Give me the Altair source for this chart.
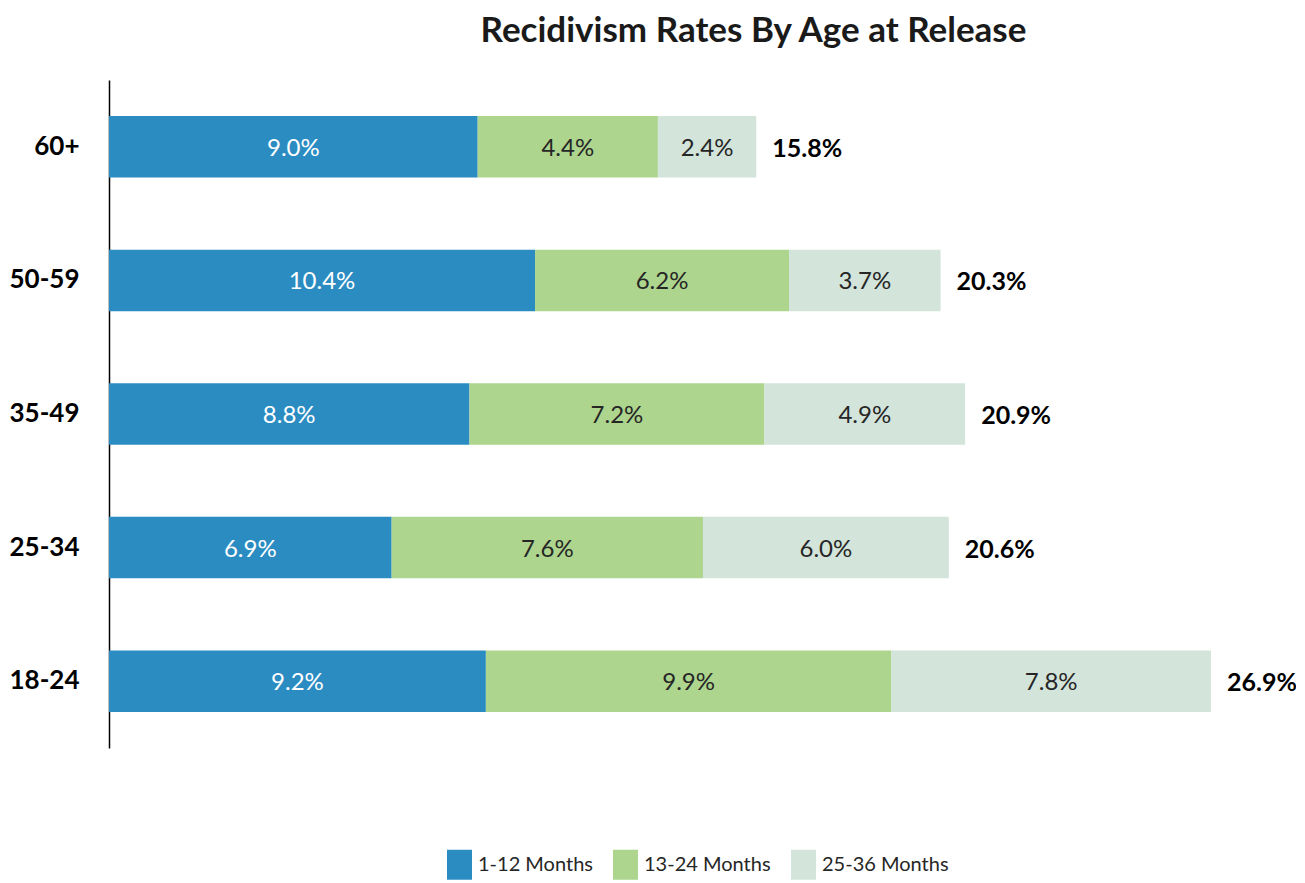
import altair as alt
import pandas as pd

ages = ["60+", "50-59", "35-49", "25-34", "18-24"]
series = ["1-12 Months", "13-24 Months", "25-36 Months"]
m1 = [9.0, 10.4, 8.8, 6.9, 9.2]
m2 = [4.4, 6.2, 7.2, 7.6, 9.9]
m3 = [2.4, 3.7, 4.9, 6.0, 7.8]
totals = [15.8, 20.3, 20.9, 20.6, 26.9]
colors = ["#2B8CC2", "#ADD58E", "#D3E4DA"]

rows = []
for i, a in enumerate(ages):
    for k, vals in enumerate([m1, m2, m3]):
        rows.append({"age": a, "series": series[k], "order": k, "value": vals[i],
                     "label": f"{vals[i]:.1f}%"})
df = pd.DataFrame(rows)
tot = pd.DataFrame({"age": ages, "total": totals,
                    "label": [f"{t:.1f}%" for t in totals],
                    "end": [m1[i] + m2[i] + m3[i] for i in range(len(ages))]})

FONT = "Lato"
xscale = alt.Scale(domain=[0, 28], nice=False, zero=True)
yscale = alt.Scale(domain=ages, paddingInner=0.54, paddingOuter=0.27)

y_enc = alt.Y("age:N", scale=yscale, sort=ages,
              axis=alt.Axis(title=None, ticks=False, labelFontSize=26, labelFont=FONT,
                            labelFontWeight="bold", labelColor="#000000", labelPadding=30,
                            domainColor="#000000", domainWidth=1.5, grid=False))

bars = alt.Chart(df).mark_bar().encode(
    x=alt.X("value:Q", stack="zero", scale=xscale, axis=None),
    y=y_enc,
    color=alt.Color("series:N", scale=alt.Scale(domain=series, range=colors),
                    legend=alt.Legend(title=None, orient="none", legendX=338, legendY=772,
                                      direction="horizontal", columns=3,
                                      symbolType="M-1,-1.2H1V1.2H-1Z", symbolSize=625,
                                      symbolStrokeWidth=0, symbolOpacity=1,
                                      labelFont=FONT, labelFontSize=20, labelColor="#262626",
                                      labelOffset=6, columnPadding=20, labelLimit=300)),
    order=alt.Order("order:Q"),
)

texts = alt.Chart(df).transform_stack(
    stack="value", groupby=["age"], as_=["x0", "x1"], sort=[alt.SortField("order")]
).transform_calculate(
    mid="(datum.x0 + datum.x1) / 2"
).mark_text(font=FONT, fontSize=24, baseline="middle", align="center", dy=2).encode(
    x=alt.X("mid:Q", scale=xscale, axis=None),
    y=alt.Y("age:N", scale=yscale, sort=ages),
    text="label:N",
    color=alt.condition("datum.order == 0", alt.value("#FFFFFF"), alt.value("#262626")),
)

tots = alt.Chart(tot).mark_text(font=FONT, fontSize=25, fontWeight="bold", align="left",
                                baseline="middle", dx=16, dy=2, color="#000000").encode(
    x=alt.X("end:Q", scale=xscale, axis=None),
    y=alt.Y("age:N", scale=yscale, sort=ages),
    text="label:N",
)

chart = alt.layer(bars, texts, tots).properties(
    width=1147, height=668,
    autosize=alt.AutoSizeParams(type="none"),
    padding={"left": 101, "top": 72, "right": 40, "bottom": 134},
    title=alt.TitleParams("Recidivism Rates By Age at Release", font=FONT, fontSize=35,
                          fontWeight="bold", color="#1a1a1a", dx=71, offset=31),
).configure_view(stroke=None)

chart.save("out.html", embed_options={"renderer": "svg", "actions": False})
